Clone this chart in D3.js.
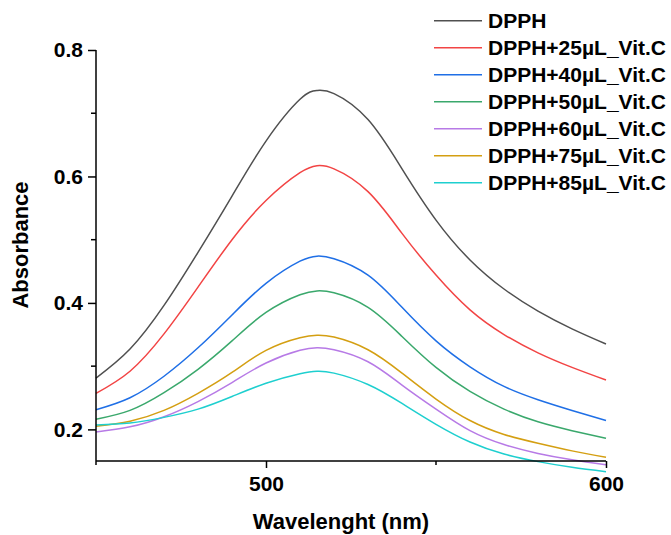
<!DOCTYPE html>
<html>
<head>
<meta charset="utf-8">
<script src="https://cdn.jsdelivr.net/npm/d3@7"></script>
<style>
  html, body { margin: 0; padding: 0; background: #fff; }
  svg { display: block; }
  text { font-family: "Liberation Sans", Arial, sans-serif; font-weight: bold; fill: #000; }
</style>
</head>
<body>
<svg id="chart" width="671" height="535"></svg>
<script>
// ---- data ----
const wavelengths = [450, 460, 470, 480, 490, 500, 510, 515, 520, 530, 540, 550, 560, 570, 580, 590, 600];
const seriesNames = ["DPPH", "DPPH+25µL_Vit.C", "DPPH+40µL_Vit.C", "DPPH+50µL_Vit.C", "DPPH+60µL_Vit.C", "DPPH+75µL_Vit.C", "DPPH+85µL_Vit.C"];
const dpph   = [0.281, 0.327, 0.396, 0.480, 0.569, 0.656, 0.722, 0.736, 0.731, 0.690, 0.612, 0.531, 0.468, 0.422, 0.387, 0.359, 0.335];
const vitc25 = [0.257, 0.292, 0.351, 0.425, 0.500, 0.562, 0.606, 0.617, 0.612, 0.576, 0.510, 0.444, 0.389, 0.350, 0.321, 0.298, 0.278];
const vitc40 = [0.231, 0.250, 0.284, 0.329, 0.381, 0.431, 0.466, 0.474, 0.470, 0.444, 0.393, 0.340, 0.299, 0.268, 0.247, 0.230, 0.214];
const vitc50 = [0.216, 0.230, 0.258, 0.295, 0.340, 0.385, 0.413, 0.419, 0.416, 0.393, 0.347, 0.298, 0.260, 0.232, 0.212, 0.198, 0.186];
const vitc60 = [0.196, 0.204, 0.220, 0.244, 0.274, 0.305, 0.325, 0.329, 0.326, 0.307, 0.270, 0.232, 0.198, 0.176, 0.162, 0.152, 0.144];
const vitc75 = [0.205, 0.213, 0.230, 0.257, 0.290, 0.325, 0.345, 0.349, 0.346, 0.326, 0.289, 0.248, 0.214, 0.192, 0.178, 0.166, 0.156];
const vitc85 = [0.207, 0.210, 0.219, 0.232, 0.252, 0.273, 0.288, 0.292, 0.289, 0.271, 0.241, 0.208, 0.180, 0.161, 0.149, 0.140, 0.133];
const seriesValues = [dpph, vitc25, vitc40, vitc50, vitc60, vitc75, vitc85];
const colors = ["#505050", "#f24444", "#1f6fe6", "#3aa86c", "#b77ae6", "#d49f12", "#1ecfcf"];
const xMajorTicks = [500, 600];
const xMinorTicks = [450, 550];
const yMajorTicks = [0.2, 0.4, 0.6, 0.8];
const yMinorTicks = [0.3, 0.5, 0.7];
const xTitle = "Wavelenght (nm)";
const yTitle = "Absorbance";

// ---- layout ----
const svg = d3.select("#chart");
const pL = 96, pR = 606, pT = 50, pB = 461;
const x = d3.scaleLinear().domain([450, 600]).range([pL, pR]);
const y = d3.scaleLinear().domain([0.15, 0.8]).range([pB, pT]);

// curves
const line = d3.line().x(d => x(d[0])).y(d => y(d[1])).curve(d3.curveNatural);
seriesValues.forEach((vals, i) => {
  svg.append("path")
    .datum(wavelengths.map((w, j) => [w, vals[j]]))
    .attr("fill", "none")
    .attr("stroke", colors[i])
    .attr("stroke-width", 1.5)
    .attr("d", line);
});

// axes
const fs = 21;
const xAxis = svg.append("g").attr("transform", `translate(0,${pB})`)
  .call(d3.axisBottom(x).tickValues(xMajorTicks).tickSize(7).tickPadding(8).tickFormat(d3.format("d")));
xAxis.append("g").selectAll("line").data(xMinorTicks).join("line")
  .attr("x1", d => x(d)).attr("x2", d => x(d)).attr("y1", 0).attr("y2", 4).attr("stroke", "#000").attr("stroke-width", 1.5);

const yAxis = svg.append("g").attr("transform", `translate(${pL},0)`)
  .call(d3.axisLeft(y).tickValues(yMajorTicks).tickSize(8).tickPadding(5).tickFormat(d3.format(".1f")));
yAxis.append("g").selectAll("line").data(yMinorTicks).join("line")
  .attr("y1", d => y(d)).attr("y2", d => y(d)).attr("x1", 0).attr("x2", -5).attr("stroke", "#000").attr("stroke-width", 1.5);

[xAxis, yAxis].forEach(g => {
  g.select(".domain").remove();
  g.selectAll(".tick line").attr("stroke", "#000").attr("stroke-width", 1.5);
  g.selectAll(".tick text").attr("font-size", fs).attr("font-family", null).attr("fill", "#000");
});
svg.append("line").attr("x1", pL).attr("x2", pR).attr("y1", pB).attr("y2", pB).attr("stroke", "#000").attr("stroke-width", 1.5);
svg.append("line").attr("x1", pL).attr("x2", pL).attr("y1", pT).attr("y2", pB).attr("stroke", "#000").attr("stroke-width", 1.5);

// titles
svg.append("text").attr("x", (pL + pR) / 2 - 10).attr("y", 529)
  .attr("text-anchor", "middle").attr("font-size", 22).text(xTitle);
svg.append("text").attr("transform", `translate(28,245) rotate(-90)`)
  .attr("text-anchor", "middle").attr("font-size", 22).text(yTitle);

// legend
const legend = svg.append("g");
seriesNames.forEach((name, i) => {
  const ly = 20.7 + 27 * i;
  legend.append("line").attr("x1", 434).attr("x2", 482).attr("y1", ly).attr("y2", ly)
    .attr("stroke", colors[i]).attr("stroke-width", 1.5);
  legend.append("text").attr("x", 488).attr("y", ly).attr("dy", "0.36em")
    .attr("font-size", fs).text(name);
});
</script>
</body>
</html>
